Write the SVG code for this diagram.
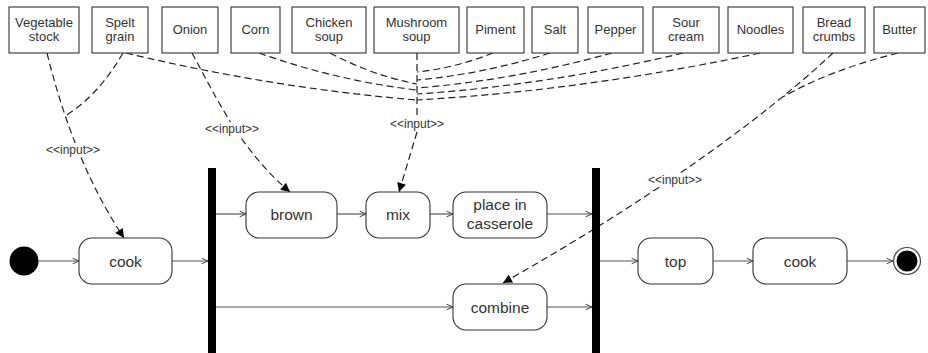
<svg xmlns="http://www.w3.org/2000/svg" width="928" height="353" viewBox="0 0 928 353">
<style>
.obj rect{fill:#fff;stroke:#333;stroke-width:1.1}
.obj text{font-family:"Liberation Sans",Arial,sans-serif;font-size:13px;fill:#333;text-anchor:middle}
.act rect{fill:#fff;stroke:#333;stroke-width:1.1}
.act text{font-family:"Liberation Sans",Arial,sans-serif;font-size:15.5px;fill:#333;text-anchor:middle}
.flow{fill:none;stroke:#555;stroke-width:1.2;marker-end:url(#open)}
.dep{fill:none;stroke:#222;stroke-width:1.2;stroke-dasharray:7 4}
.dep.arr{marker-end:url(#tri)}
.lbl rect{fill:#fff;stroke:none}
.lbl text{font-family:"Liberation Sans",Arial,sans-serif;font-size:12px;fill:#333;text-anchor:middle}
.bar{fill:#000}
</style>
<defs>
<marker id="open" viewBox="0 0 10 10" refX="10" refY="5" markerWidth="7" markerHeight="8" markerUnits="userSpaceOnUse" orient="auto">
<path d="M1,1 L10,5 L1,9" fill="none" stroke="#444" stroke-width="1.4"/>
</marker>
<marker id="tri" viewBox="0 0 10 10" refX="10" refY="5" markerWidth="12" markerHeight="9" markerUnits="userSpaceOnUse" orient="auto">
<path d="M0,0 L10,5 L0,10 Z" fill="#000"/>
</marker>
</defs>

<g id="connectors">
<path class="flow" d="M38,261 H79"/>
<path class="flow" d="M172,261 H208"/>
<path class="flow" d="M216,214 H246"/>
<path class="flow" d="M337,214 H366"/>
<path class="flow" d="M430,214 H453"/>
<path class="flow" d="M547,214 H592"/>
<path class="flow" d="M216,307 H453"/>
<path class="flow" d="M547,307 H592"/>
<path class="flow" d="M600,261 H638"/>
<path class="flow" d="M713,261 H753"/>
<path class="flow" d="M847,261 H893"/>
<path class="dep arr" d="M47,53 Q74,163 124,238"/>
<path class="dep" d="M123,53 Q98,96 65,116"/>
<path class="dep arr" d="M192,53 C215,95 240,150 290,192"/>
<path class="dep arr" d="M417,53 V117 M417,132 L399,192"/>
<path class="dep" d="M126,53 Q272,88 417,100"/>
<path class="dep" d="M259,53 Q338,81 417,90"/>
<path class="dep" d="M330,53 Q374,76 417,84"/>
<path class="dep" d="M493,53 Q455,68 417,72"/>
<path class="dep" d="M550,53 Q483,74 417,80"/>
<path class="dep" d="M612,53 Q515,80 417,88"/>
<path class="dep" d="M683,53 Q550,85 417,94"/>
<path class="dep" d="M760,53 Q588,90 417,100"/>
<path class="dep arr" d="M833,53 Q717,161 503,283"/>
<path class="dep" d="M898,53 Q830,70 783,97"/>
</g>

<g id="labels" class="lbl">
<rect x="43" y="143" width="60" height="14"/><text x="73" y="154">&lt;&lt;input&gt;&gt;</text>
<rect x="202" y="122" width="60" height="14"/><text x="232" y="133">&lt;&lt;input&gt;&gt;</text>
<rect x="387" y="117" width="60" height="14"/><text x="417" y="128">&lt;&lt;input&gt;&gt;</text>
<rect x="645" y="173" width="60" height="14"/><text x="675" y="184">&lt;&lt;input&gt;&gt;</text>
</g>

<g id="obj-vegetable-stock" class="obj"><rect x="9" y="7" width="70" height="46"/><text x="44" y="27">Vegetable</text><text x="44" y="41">stock</text></g>
<g id="obj-spelt-grain" class="obj"><rect x="92" y="7" width="56" height="46"/><text x="120" y="27">Spelt</text><text x="120" y="41">grain</text></g>
<g id="obj-onion" class="obj"><rect x="162" y="7" width="56" height="46"/><text x="190" y="34">Onion</text></g>
<g id="obj-corn" class="obj"><rect x="231" y="7" width="49" height="46"/><text x="255.5" y="34">Corn</text></g>
<g id="obj-chicken-soup" class="obj"><rect x="292" y="7" width="74" height="46"/><text x="329" y="27">Chicken</text><text x="329" y="41">soup</text></g>
<g id="obj-mushroom-soup" class="obj"><rect x="374" y="7" width="85" height="46"/><text x="416.5" y="27">Mushroom</text><text x="416.5" y="41">soup</text></g>
<g id="obj-piment" class="obj"><rect x="467" y="7" width="57" height="46"/><text x="495.5" y="34">Piment</text></g>
<g id="obj-salt" class="obj"><rect x="532" y="7" width="46" height="46"/><text x="555" y="34">Salt</text></g>
<g id="obj-pepper" class="obj"><rect x="588" y="7" width="55" height="46"/><text x="615.5" y="34">Pepper</text></g>
<g id="obj-sour-cream" class="obj"><rect x="653" y="7" width="66" height="46"/><text x="686" y="27">Sour</text><text x="686" y="41">cream</text></g>
<g id="obj-noodles" class="obj"><rect x="728" y="7" width="65" height="46"/><text x="760.5" y="34">Noodles</text></g>
<g id="obj-bread-crumbs" class="obj"><rect x="803" y="7" width="62" height="46"/><text x="834" y="27">Bread</text><text x="834" y="41">crumbs</text></g>
<g id="obj-butter" class="obj"><rect x="874" y="7" width="51" height="46"/><text x="899.5" y="34">Butter</text></g>

<g id="initial"><circle cx="24" cy="261" r="14.5" fill="#000"/></g>
<g id="act-cook1" class="act"><rect x="79" y="238" width="93" height="46" rx="13"/><text x="125.5" y="266.5">cook</text></g>
<g id="fork1"><rect class="bar" x="208" y="168" width="8" height="185"/></g>
<g id="act-brown" class="act"><rect x="246" y="192" width="91" height="46" rx="13"/><text x="291.5" y="219.5">brown</text></g>
<g id="act-mix" class="act"><rect x="366" y="192" width="64" height="46" rx="13"/><text x="398" y="219.5">mix</text></g>
<g id="act-place" class="act"><rect x="453" y="192" width="94" height="46" rx="13"/><text x="500" y="210">place in</text><text x="500" y="229">casserole</text></g>
<g id="act-combine" class="act"><rect x="453" y="284" width="94" height="46" rx="13"/><text x="500" y="312.5">combine</text></g>
<g id="join1"><rect class="bar" x="592" y="168" width="8" height="185"/></g>
<g id="act-top" class="act"><rect x="638" y="238" width="75" height="46" rx="13"/><text x="675.5" y="266.5">top</text></g>
<g id="act-cook2" class="act"><rect x="753" y="238" width="94" height="46" rx="13"/><text x="800" y="266.5">cook</text></g>
<g id="final"><circle cx="907" cy="261" r="13.5" fill="#fff" stroke="#444" stroke-width="1.2"/><circle cx="907" cy="261" r="10.5" fill="#000"/></g>
</svg>
